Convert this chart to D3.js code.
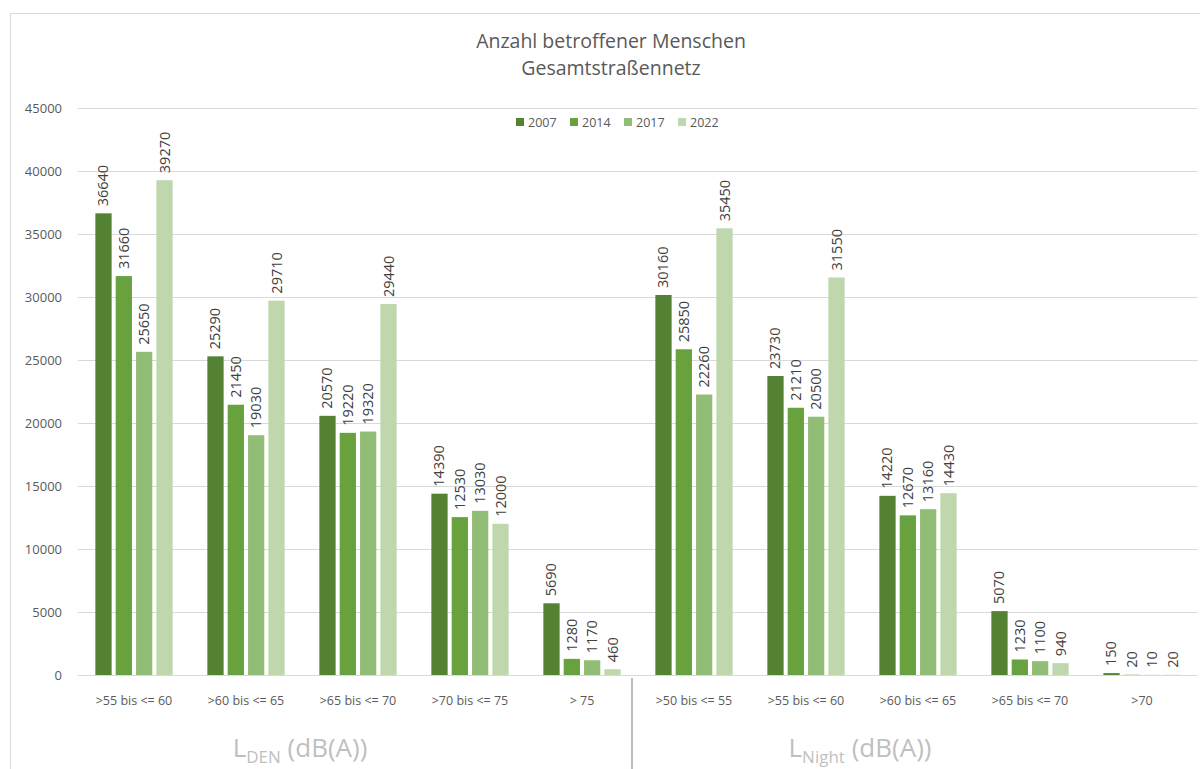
<!DOCTYPE html>
<html lang="de">
<head>
    <meta charset="UTF-8">
    <title>Anzahl betroffener Menschen - Gesamtstraßennetz</title>
    <script src="https://d3js.org/d3.v7.min.js"></script>
    <style>
        body { margin: 0; background: #fff; }
        text { font-family: "Open Sans", "Liberation Sans", sans-serif; }
    </style>
</head>
<body>
    <script>
        // chart data
        const years = ["2007", "2014", "2017", "2022"];
        const categories = [">55 bis <= 60", ">60 bis <= 65", ">65 bis <= 70", ">70 bis <= 75", "> 75",
                            ">50 bis <= 55", ">55 bis <= 60", ">60 bis <= 65", ">65 bis <= 70", ">70"];
        const groups = [
            { name: "DEN", count: 5 },
            { name: "Night", count: 5 }
        ];
        const values2007 = [36640, 25290, 20570, 14390, 5690, 30160, 23730, 14220, 5070, 150];
        const values2014 = [31660, 21450, 19220, 12530, 1280, 25850, 21210, 12670, 1230, 20];
        const values2017 = [25650, 19030, 19320, 13030, 1170, 22260, 20500, 13160, 1100, 10];
        const values2022 = [39270, 29710, 29440, 12000, 460, 35450, 31550, 14430, 940, 20];
        const yTicks = [0, 5000, 10000, 15000, 20000, 25000, 30000, 35000, 40000, 45000];

        const series = [values2007, values2014, values2017, values2022];
        const colors = ["#548235", "#67a23f", "#92bd76", "#bed7ad"];

        const width = 1200, height = 769;
        const margin = { top: 108, right: 2, bottom: 94, left: 78 };

        const svg = d3.select("body").append("svg")
            .attr("width", width)
            .attr("height", height);

        // chart border
        svg.append("rect")
            .attr("x", 10.5).attr("y", 13.5)
            .attr("width", width + 20).attr("height", height + 20)
            .attr("fill", "none")
            .attr("stroke", "#d9d9d9");

        const idx = d3.range(categories.length);
        const x = d3.scaleBand()
            .domain(idx)
            .range([margin.left, width - margin.right])
            .paddingInner(0.31)
            .paddingOuter(0.155);
        const x1 = d3.scaleBand()
            .domain(years)
            .range([0, x.bandwidth()])
            .paddingInner(0.2);
        const y = d3.scaleLinear()
            .domain([0, 45000])
            .range([height - margin.bottom, margin.top]);

        // gridlines
        svg.append("g")
            .selectAll("line")
            .data(yTicks)
            .join("line")
            .attr("x1", margin.left)
            .attr("x2", width - margin.right)
            .attr("y1", d => Math.round(y(d)) + 0.5)
            .attr("y2", d => Math.round(y(d)) + 0.5)
            .attr("stroke", "#d9d9d9")
            .attr("stroke-width", 1);

        // y axis labels
        const yAxis = svg.append("g")
            .attr("transform", `translate(${margin.left - 13},0)`)
            .call(d3.axisLeft(y).tickValues(yTicks).tickSize(0).tickFormat(d3.format("d")));
        yAxis.select(".domain").remove();
        yAxis.selectAll("text")
            .attr("fill", "#595959")
            .style("font-size", "13px");

        // bars
        const catG = svg.append("g")
            .selectAll("g")
            .data(idx)
            .join("g")
            .attr("transform", i => `translate(${x(i)},0)`);

        catG.selectAll("rect")
            .data(i => years.map((yr, s) => ({ yr, v: series[s][i], s })))
            .join("rect")
            .attr("x", d => x1(d.yr))
            .attr("width", x1.bandwidth())
            .attr("y", d => y(d.v))
            .attr("height", d => y(0) - y(d.v))
            .attr("fill", d => colors[d.s]);

        // data labels (rotated)
        catG.selectAll("text")
            .data(i => years.map((yr, s) => ({ yr, v: series[s][i], s })))
            .join("text")
            .attr("transform", d => `translate(${x1(d.yr) + x1.bandwidth() / 2 + 5},${y(d.v) - 7}) rotate(-90)`)
            .attr("text-anchor", "start")
            .attr("fill", "#404040")
            .style("font-size", "14.5px")
            .text(d => d.v);

        // category labels
        svg.append("g")
            .selectAll("text")
            .data(idx)
            .join("text")
            .attr("x", i => x(i) + x.bandwidth() / 2)
            .attr("y", height - margin.bottom + 30)
            .attr("text-anchor", "middle")
            .attr("fill", "#595959")
            .style("font-size", "12.5px")
            .text(i => categories[i]);

        // group separator
        const step = x.step();
        const boundary = x(groups[0].count) - step * x.paddingInner() / 2 - 6;
        svg.append("line")
            .attr("x1", boundary).attr("x2", boundary)
            .attr("y1", height - margin.bottom + 3)
            .attr("y2", height)
            .attr("stroke", "#a6a6a6")
            .attr("stroke-width", 1.5);

        // group labels with subscript
        let start = 0;
        groups.forEach(g => {
            const first = x(start) - step * x.paddingInner() / 2;
            const last = x(start + g.count - 1) + x.bandwidth() + step * x.paddingInner() / 2;
            const cx = (first + last) / 2 - 58;
            const t = svg.append("text")
                .attr("x", cx)
                .attr("y", height - 12)
                .attr("text-anchor", "middle")
                .attr("fill", "#bfbfbf")
                .style("font-size", "26px");
            t.append("tspan").text("L");
            t.append("tspan").attr("dy", 6).style("font-size", "17px").text(g.name);
            t.append("tspan").attr("dy", -6).text(" (dB(A))");
            start += g.count;
        });

        // title
        const title = svg.append("text")
            .attr("text-anchor", "middle")
            .attr("fill", "#595959")
            .style("font-size", "19.5px");
        title.append("tspan").attr("x", 611).attr("y", 48).text("Anzahl betroffener Menschen");
        title.append("tspan").attr("x", 611).attr("y", 75).text("Gesamtstraßennetz");

        // legend
        const legend = svg.append("g")
            .attr("transform", "translate(516,122)");
        const li = legend.selectAll("g")
            .data(years)
            .join("g")
            .attr("transform", (d, i) => `translate(${i * 54},0)`);
        li.append("rect")
            .attr("x", 0).attr("y", -4)
            .attr("width", 8).attr("height", 8)
            .attr("fill", (d, i) => colors[i]);
        li.append("text")
            .attr("x", 12).attr("y", 4.5)
            .attr("fill", "#595959")
            .style("font-size", "12.5px")
            .text(d => d);
    </script>
</body>
</html>
